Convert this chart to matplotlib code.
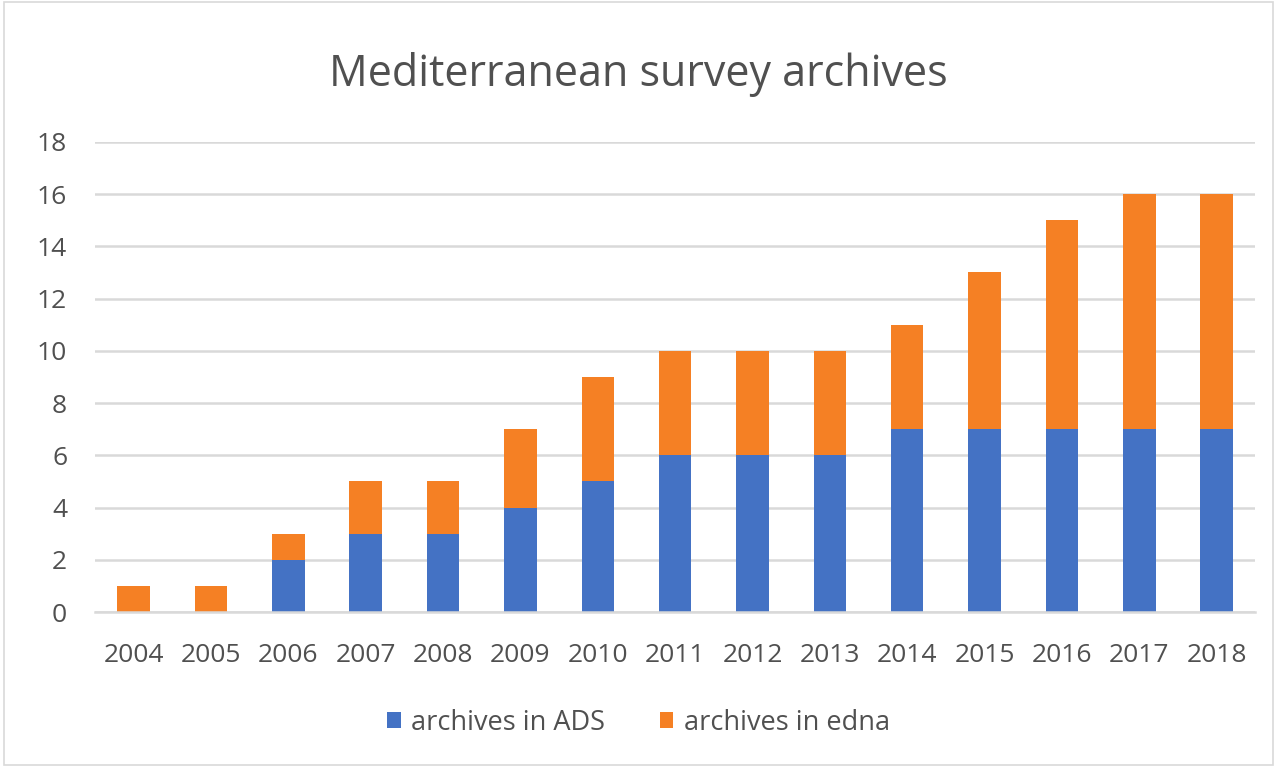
import numpy as np
import matplotlib.pyplot as plt
from matplotlib.patches import Rectangle

years = ['2004', '2005', '2006', '2007', '2008', '2009', '2010', '2011',
         '2012', '2013', '2014', '2015', '2016', '2017', '2018']
ads = [0, 0, 2, 3, 3, 4, 5, 6, 6, 6, 7, 7, 7, 7, 7]
edna = [1, 1, 1, 2, 2, 3, 4, 4, 4, 4, 4, 6, 8, 9, 9]

BLUE = '#4472C4'
ORANGE = '#F58024'
TEXT = '#505050'


def main():
    plt.rcParams['font.family'] = ['Open Sans', 'DejaVu Sans']
    fig = plt.figure(figsize=(12.77, 7.67), dpi=100)
    ax = fig.add_axes([0.0744, 0.202, 0.9086, 0.613])

    x = np.arange(len(years))
    ax.bar(x, ads, width=0.42, color=BLUE, label='archives in ADS', zorder=2)
    ax.bar(x, edna, width=0.42, bottom=ads, color=ORANGE,
           label='archives in edna', zorder=2)

    ax.set_xlim(-0.5, len(years) - 0.5)
    ax.set_ylim(0, 18)
    ax.set_yticks(range(0, 19, 2))
    ax.set_xticks(x)
    ax.set_xticklabels(years)
    ax.yaxis.grid(True, color='#D9D9D9', linewidth=1.8, zorder=0)
    ax.tick_params(axis='both', length=0, labelsize=19, labelcolor=TEXT)
    ax.tick_params(axis='x', pad=22)
    ax.tick_params(axis='y', pad=20)
    for s in ['top', 'right', 'left']:
        ax.spines[s].set_visible(False)
    ax.spines['bottom'].set_color('#D9D9D9')
    ax.spines['bottom'].set_linewidth(1.8)

    fig.text(0.5, 0.903, 'Mediterranean survey archives', ha='center',
             va='center', fontsize=31, color=TEXT)
    fig.legend(loc='center', bbox_to_anchor=(0.5, 0.058), ncol=2,
               frameon=False, fontsize=19.5, labelcolor=TEXT,
               handlelength=0.5, handleheight=0.5, columnspacing=2.0,
               handletextpad=0.4)
    fig.patches.append(Rectangle((0.003, 0.003), 0.994, 0.994,
                                 transform=fig.transFigure, fill=False,
                                 edgecolor='#D9D9D9', linewidth=1.2))
    plt.savefig('out.png')


if __name__ == '__main__':
    main()
